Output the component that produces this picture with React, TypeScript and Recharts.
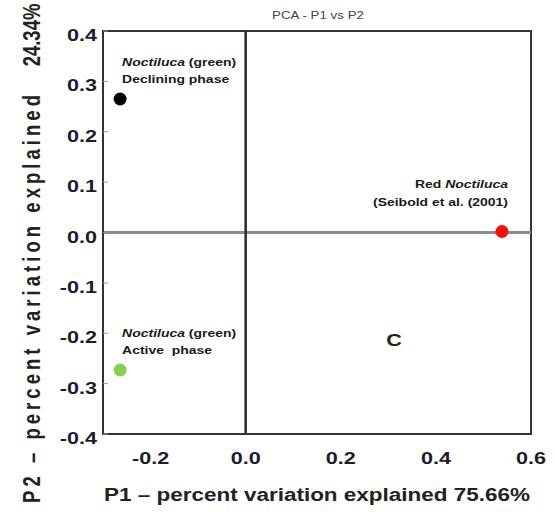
import React from "react"
import { ScatterChart, Scatter, XAxis, YAxis, ReferenceLine, ReferenceArea } from "recharts"

// PCA scores
const groups = ["declining", "active", "red"]
const p1Values = [-0.264, -0.264, 0.539]
const p2Values = [0.265, -0.273, 0.002]
const dotColors = ["#000000", "#88d04b", "#ff0d0d"]

// annotation text, first line split into [text, italic]
const labelTop: [string, boolean][][] = [
  [["Noctiluca", true], [" (green)", false]],
  [["Noctiluca", true], [" (green)", false]],
  [["Red ", false], ["Noctiluca", true]],
]
const labelBottom = ["Declining phase", "Active  phase", "(Seibold et al. (2001)"]
const labelAlign = ["start", "start", "end"]

const sectionP1 = [0.312]
const sectionP2 = [-0.213]
const sectionText = ["C"]

const xTicks = [-0.2, 0, 0.2, 0.4, 0.6]
const yTicks = [-0.4, -0.3, -0.2, -0.1, 0, 0.1, 0.2, 0.3, 0.4]
const topTicks = [-0.2, 0.2, 0.4]
const sideTicks = [-0.3, -0.2, -0.1, 0.1, 0.2, 0.3]

const chartTitle = "PCA - P1 vs P2"
const xTitle = "P1 \u2013 percent variation explained 75.66%"
const yTitle = "P2 \u2013 percent variation explained"
const yTitleValue = "24.34%"

const points = groups.map((g, i) => ({ group: g, idx: i, p1: p1Values[i], p2: p2Values[i] }))
const sections = sectionText.map((t, i) => ({ text: t, p1: sectionP1[i], p2: sectionP2[i] }))

const FONT = "Arial, 'Liberation Sans', sans-serif"
const SX = 1.27
const INK = "#1c1c2a"

const XTick = (props: any) => {
  const { x, y, payload } = props
  return (
    <g transform={`translate(${x},${y + 30}) scale(${SX},1)`}>
      <text x={0} y={0} textAnchor="middle" fontFamily={FONT} fontWeight="bold" fontSize={17} fill={INK}>
        {Number(payload.value).toFixed(1)}
      </text>
    </g>
  )
}

const YTick = (props: any) => {
  const { x, y, payload } = props
  return (
    <g transform={`translate(${x},${y + 10}) scale(${SX},1)`}>
      <text x={0} y={0} textAnchor="end" fontFamily={FONT} fontWeight="bold" fontSize={17} fill={INK}>
        {Number(payload.value).toFixed(1)}
      </text>
    </g>
  )
}

const NoTick = () => <g />

const XTitle = (props: any) => {
  const vb = props.viewBox
  const cx = vb.x + vb.width / 2
  return (
    <g>
      <g transform={`translate(${cx + 1},19) scale(${SX},1)`}>
        <text x={0} y={0} textAnchor="middle" fontFamily={FONT} fontSize={10.5} fill="#444">
          {chartTitle}
        </text>
      </g>
      <g transform={`translate(${cx},${vb.y + 67}) scale(1.25,1)`}>
        <text x={0} y={0} textAnchor="middle" fontFamily={FONT} fontWeight="bold" fontSize={18} fill="#222">
          {xTitle}
        </text>
      </g>
    </g>
  )
}

const YTitle = () => (
  <g fontFamily={FONT} fontWeight="bold" fontSize={18.5} fill="#222">
    <g transform={`translate(40,299) rotate(-90) scale(1,1.3)`}>
      <text x={0} y={0} textAnchor="middle" textLength={408} lengthAdjust="spacing">
        {yTitle}
      </text>
    </g>
    <g transform={`translate(40,35) rotate(-90) scale(1,1.3)`}>
      <text x={0} y={0} textAnchor="middle">{yTitleValue}</text>
    </g>
  </g>
)

const PointShape = (props: any) => {
  const { cx, cy, payload } = props
  const i = payload.idx
  const end = labelAlign[i] === "end"
  const lx = end ? cx + 6 : cx + 2
  const y1 = end ? -43 : -33
  return (
    <g>
      <circle cx={cx} cy={cy} r={6.5} fill={dotColors[i]} />
      <g transform={`translate(${lx},${cy}) scale(${SX},1)`} fontFamily={FONT} fontWeight="bold" fontSize={11} fill="#1a1a1a">
        <text x={0} y={y1} textAnchor={end ? "end" : "start"} style={{ whiteSpace: "pre" }}>
          {labelTop[i].map(([t, it], k) => (
            <tspan key={k} fontStyle={it ? "italic" : "normal"}>{t}</tspan>
          ))}
        </text>
        <text x={0} y={y1 + 17} textAnchor={end ? "end" : "start"} style={{ whiteSpace: "pre" }}>
          {labelBottom[i]}
        </text>
      </g>
    </g>
  )
}

const SectionShape = (props: any) => {
  const { cx, cy, payload } = props
  return (
    <g transform={`translate(${cx},${cy + 6}) scale(${SX},1)`}>
      <text x={0} y={0} textAnchor="middle" fontFamily={FONT} fontWeight="bold" fontSize={17} fill="#222">
        {payload.text}
      </text>
    </g>
  )
}

export default function App() {
  return (
    <div style={{ position: "absolute", left: 0, top: 0, width: 554, height: 512, background: "#fff" }}>
      <ScatterChart width={554} height={512} margin={{ top: 31, right: 23, bottom: 0, left: 0 }}>
        <XAxis
          dataKey="p1"
          type="number"
          domain={[-0.3, 0.6]}
          ticks={xTicks}
          interval={0}
          height={78}
          tickLine={false}
          tickSize={0}
          tickMargin={0}
          axisLine={{ stroke: "#333", strokeWidth: 2 }}
          tick={<XTick />}
          label={XTitle}
        />
        <XAxis
          xAxisId="top"
          orientation="top"
          type="number"
          domain={[-0.3, 0.6]}
          ticks={topTicks}
          interval={0}
          height={1}
          mirror
          tick={<NoTick />}
          tickSize={5}
          tickLine={{ stroke: "#999" }}
          axisLine={false}
        />
        <YAxis
          dataKey="p2"
          type="number"
          domain={[-0.4, 0.4]}
          ticks={yTicks}
          interval={0}
          width={103}
          tickSize={-5}
          tickMargin={11}
          tickLine={{ stroke: "#999" }}
          axisLine={{ stroke: "#333", strokeWidth: 2 }}
          tick={<YTick />}
          label={YTitle}
        />
        <YAxis
          yAxisId="right"
          orientation="right"
          type="number"
          domain={[-0.4, 0.4]}
          ticks={sideTicks}
          interval={0}
          width={1}
          mirror
          tick={<NoTick />}
          tickSize={5}
          tickLine={{ stroke: "#999" }}
          axisLine={false}
        />
        <ReferenceArea
          x1={-0.3}
          x2={0.6}
          y1={-0.4}
          y2={0.4}
          fill="none"
          fillOpacity={0}
          stroke="#333"
          strokeWidth={2}
          strokeOpacity={1}
        />
        <ReferenceLine y={0} stroke="#8c8c8c" strokeWidth={3} />
        <ReferenceLine x={0} stroke="#2a2a2a" strokeWidth={2.5} />
        <Scatter data={points} dataKey="p2" shape={PointShape} isAnimationActive={false} />
        <Scatter data={sections} dataKey="p2" shape={SectionShape} isAnimationActive={false} />
      </ScatterChart>
    </div>
  )
}
